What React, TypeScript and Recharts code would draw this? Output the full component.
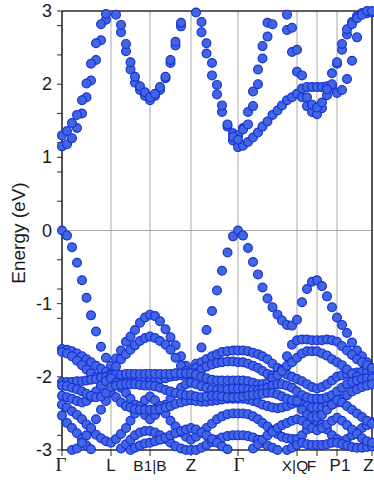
import React from 'react';
import { ScatterChart, Scatter, XAxis, YAxis, CartesianGrid, ReferenceLine } from 'recharts';

// k-path position of every sampled point (Γ-L-B1|B-Z-Γ-X|Q-F-P1-Z)
const kGrid = [
  0, 5, 10, 15, 20, 24.5, 29, 34, 39, 44, 49,
  54, 59, 64, 68.5, 73, 78, 83, 88,
  93, 98, 103.5, 108.5, 113.5, 119, 124, 129,
  134, 139.5, 144.5, 150, 155, 160, 165.5, 171, 176,
  181, 186, 191, 196, 200.5, 205.5, 210.5, 215.5, 220, 225, 230, 235,
  240, 245, 250, 255,
  260, 265, 270, 275,
  280, 285, 290, 295, 300, 305, 310,
];

const kPoints = [0, 49, 88, 129, 176, 235, 255, 275, 310];
const kLabels = ['Γ', 'L', 'B1|B', 'Z', 'Γ', 'X|Q', 'F', 'P1', 'Z'];

const energyTicks = [-3, -2.8, -2.4, -2, -1.6, -1.2, -1, -0.8, -0.4, 0, 0.4, 0.8, 1, 1.2, 1.6, 2, 2.4, 2.8, 3];

// conduction bands
const c1 = [
  1.15, 1.18, 1.26, 1.40, 1.60, 1.82, 2.05, 2.33, 2.60, 2.88, 3.10,
  2.95, 2.71, 2.45, 2.20, 2.02, 1.92, 1.84, 1.78,
  1.84, 1.92, 2.08, 2.29, 2.53, 2.79, 3.05, 3.20,
  2.98, 2.71, 2.42, 2.12, 1.86, 1.62, 1.42, 1.23, 1.14,
  1.16, 1.21, 1.27, 1.34, 1.42, 1.49, 1.58, 1.64, 1.71, 1.78, 1.82, 1.87,
  1.94, 1.96, 1.96, 1.96,
  1.96, 1.97, 1.95, 1.88,
  1.92, 2.07, 2.32, 2.64, 2.97, 3.10, 3.20,
];
const c2 = [
  1.30, 1.36, 1.47, 1.58, 1.78, 2.01, 2.28, 2.56, 2.82, 2.96, 3.10,
  3.05, 2.81, 2.55, 2.30, 2.10, 1.97, 1.89, 1.82,
  1.87, 1.96, 2.10, 2.33, 2.58, 2.84, 3.10, 3.20,
  3.05, 2.85, 2.56, 2.29, 1.99, 1.71, 1.45, 1.33, 1.30,
  1.40, 1.62, 1.90, 2.20, 2.52, 2.84, 3.05, 3.20, 3.05, 2.74, 2.44, 2.17,
  1.82, 1.70, 1.62, 1.59,
  1.67, 1.85, 2.00, 2.28,
  2.47, 2.68, 2.85, 2.93, 2.97, 2.97, 2.98,
];
const c3 = [
  null, null, null, null, null, null, null, null, null, null, null,
  null, null, null, null, null, null, null, null,
  null, null, null, null, null, null, null, null,
  null, null, null, null, null, null, null, 1.28, 1.24,
  1.38, 1.45, 1.70, 2.00, 2.35, 2.65, 2.82, null, null, 2.95, 2.77, 2.47,
  2.12, 1.82, 1.72, 1.68,
  1.75, 1.93, 2.15, 2.30,
  2.55, 2.75, 2.82, 2.90, 2.95, 3.00, 3.00,
];

// valence bands
const v1 = [
  0.00, -0.07, -0.23, -0.44, -0.68, -0.92, -1.16, -1.38, -1.59, -1.74, -1.85,
  -1.75, -1.64, -1.52, -1.45, -1.36, -1.26, -1.19, -1.15,
  -1.17, -1.24, -1.35, -1.46, -1.57, -1.72, -1.85, -1.95,
  -1.82, -1.60, -1.36, -1.10, -0.82, -0.55, -0.30, -0.08, 0.00,
  -0.07, -0.24, -0.43, -0.60, -0.78, -0.93, -1.05, -1.15, -1.23, -1.29, -1.30, -1.22,
  -0.98, -0.80, -0.70, -0.68,
  -0.76, -0.90, -1.05, -1.19,
  -1.29, -1.40, -1.53, -1.64, -1.72, -1.80, -1.88,
];
const v2 = [
  -1.62, -1.63, -1.65, -1.68, -1.72, -1.76, -1.80, -1.85, -1.89, -1.93, -1.96,
  -1.86, -1.76, -1.69, -1.63, -1.57, -1.51, -1.47, -1.45,
  -1.47, -1.51, -1.56, -1.63, -1.74, -1.85, -1.92, -1.97,
  -1.88, -1.80, -1.76, -1.72, -1.69, -1.66, -1.65, -1.64, -1.64,
  -1.64, -1.65, -1.67, -1.69, -1.72, -1.76, -1.82, -1.88, -1.93, -1.97, -2.00, -2.03,
  -2.06, -2.10, -2.14, -2.16,
  -2.14, -2.10, -2.05, -2.00,
  -1.98, -1.96, -1.95, -1.94, -1.93, -1.92, -1.92,
];
const va = [
  -1.66, -1.68, -1.72, -1.78, -1.84, -1.90, -1.95, -2.00, -2.02, -2.02, -2.00,
  -1.99, -2.00, -2.00, -2.00, -2.01, -2.02, -2.03, -2.04,
  -2.04, -2.03, -2.02, -2.00, -1.99, -1.98, -1.97, -1.97,
  -1.95, -1.90, -1.86, -1.83, -1.81, -1.80, -1.79, -1.79, -1.80,
  -1.80, -1.82, -1.85, -1.88, -1.92, -1.96, -1.98, -1.98, -1.90, -1.72, -1.56, -1.50,
  -1.49, -1.49, -1.50, -1.50,
  -1.50, -1.49, -1.50, -1.52,
  -1.58, -1.64, -1.70, -1.76, -1.80, -1.84, -1.88,
];
const v3 = [
  -2.07, -2.07, -2.07, -2.06, -2.06, -2.05, -2.04, -2.03, -2.01, -2.00, -1.98,
  -1.97, -1.97, -1.96, -1.96, -1.96, -1.96, -1.96, -1.96,
  -1.96, -1.96, -1.96, -1.96, -1.95, -1.95, -1.95, -1.95,
  -1.97, -2.00, -2.02, -2.04, -2.05, -2.05, -2.05, -2.05, -2.05,
  -2.05, -2.06, -2.08, -2.10, -2.10, -2.08, -2.02, -1.98, -1.92, -1.85, -1.80, -1.74,
  -1.68, -1.65, -1.65, -1.65,
  -1.68, -1.71, -1.76, -1.80,
  -1.84, -1.90, -1.96, -2.00, -2.03, -2.05, -2.07,
];
const v4 = [
  -2.26, -2.28, -2.30, -2.33, -2.35, -2.33, -2.28, -2.20, -2.12, -2.06, -2.02,
  -2.08, -2.15, -2.22, -2.30, -2.38, -2.45, -2.52, -2.58,
  -2.52, -2.45, -2.38, -2.30, -2.22, -2.15, -2.10, -2.08,
  -2.10, -2.13, -2.15, -2.17, -2.18, -2.18, -2.17, -2.16, -2.16,
  -2.16, -2.17, -2.18, -2.18, -2.17, -2.15, -2.12, -2.10, -2.10, -2.12, -2.15, -2.20,
  -2.25, -2.28, -2.30, -2.30,
  -2.30, -2.28, -2.25, -2.20,
  -2.15, -2.10, -2.07, -2.05, -2.03, -2.02, -2.02,
];
const v5 = [
  -2.38, -2.42, -2.47, -2.52, -2.58, -2.65, -2.72, -2.79, -2.84, -2.88, -2.90,
  -2.85, -2.78, -2.70, -2.60, -2.50, -2.40, -2.32, -2.27,
  -2.32, -2.40, -2.50, -2.60, -2.68, -2.76, -2.82, -2.86,
  -2.82, -2.76, -2.70, -2.64, -2.58, -2.54, -2.51, -2.50, -2.50,
  -2.50, -2.51, -2.54, -2.58, -2.63, -2.68, -2.73, -2.78, -2.82, -2.84, -2.85, -2.85,
  -2.80, -2.72, -2.65, -2.60,
  -2.65, -2.72, -2.80, -2.85,
  -2.88, -2.85, -2.80, -2.75, -2.70, -2.66, -2.62,
];
const v6 = [
  -2.53, -2.63, -2.70, -2.77, -2.85, -2.94, -2.99, null, null, null, null,
  null, -2.98, -2.92, -2.86, -2.80, -2.76, -2.74, -2.74,
  -2.76, -2.80, -2.85, -2.90, -2.95, -2.98, -3.00, -3.00,
  -3.00, -2.97, -2.93, -2.89, -2.86, -2.83, -2.81, -2.80, -2.80,
  -2.80, -2.81, -2.83, -2.86, -2.90, -2.94, -2.97, -3.00, null, -3.00, -2.97, -2.93,
  -2.90, -2.92, -2.93, -2.93,
  -2.93, -2.92, -2.90, -2.90,
  -2.92, -2.94, -2.96, -2.97, -2.97, -2.96, -2.95,
];
const v7 = [
  null, null, -3.00, -2.98, -2.90, -2.80, -2.70, -2.58, -2.45, -2.33, -2.22,
  -2.28, -2.35, -2.40, -2.42, -2.44, -2.45, -2.45, -2.45,
  -2.45, -2.44, -2.42, -2.40, -2.37, -2.35, -2.33, -2.32,
  -2.33, -2.34, -2.34, -2.33, -2.32, -2.31, -2.30, -2.30, -2.30,
  -2.30, -2.31, -2.33, -2.35, -2.38, -2.40, -2.42, -2.43, -2.42, -2.40, -2.37, -2.35,
  -2.38, -2.40, -2.42, -2.42,
  -2.42, -2.40, -2.38, -2.35,
  -2.30, -2.25, -2.20, -2.17, -2.14, -2.12, -2.10,
];
const v8 = [
  -2.12, -2.13, -2.15, -2.17, -2.20, -2.23, -2.26, -2.28, -2.27, -2.22, -2.14,
  -2.12, -2.11, -2.10, -2.10, -2.10, -2.11, -2.12, -2.12,
  -2.13, -2.15, -2.18, -2.20, -2.22, -2.24, -2.25, -2.25,
  -2.27, -2.28, -2.27, -2.26, -2.26, -2.27, -2.28, -2.28, -2.28,
  -2.27, -2.26, -2.25, -2.24, -2.23, -2.22, -2.22, -2.24, -2.27, -2.30, -2.32, -2.33,
  -2.45, -2.52, -2.55, -2.55,
  -2.52, -2.45, -2.38, -2.32,
  -2.35, -2.40, -2.45, -2.50, -2.55, -2.60, -2.64,
];
const v9 = [
  null, null, null, null, null, null, null, null, null, null, null,
  null, null, null, -3.00, -2.97, -2.94, -2.91, -2.90,
  -2.88, -2.86, -2.83, -2.80, -2.77, -2.74, -2.72, -2.70,
  -2.72, -2.76, -2.80, -2.85, -2.90, -2.95, -2.99, null, null,
  null, null, -2.98, -2.92, -2.86, -2.80, -2.75, -2.70, -2.66, -2.63, -2.60, -2.58,
  -2.60, -2.65, -2.70, -2.73,
  -2.70, -2.65, -2.60, -2.56,
  -2.60, -2.66, -2.72, -2.78, -2.84, -2.88, -2.90,
];

const bands = [c1, c2, c3, v1, v2, va, v3, v4, v5, v6, v7, v8, v9];

const toPoints = (band: (number | null)[]) =>
  kGrid
    .map((k, i) => ({ k, e: band[i] }))
    .filter((p) => p.e !== null && p.e >= -3.02 && p.e <= 3.02);

const SANS = 'Liberation Sans, Arial, sans-serif';
const SERIF = 'Liberation Serif, Times New Roman, serif';

const Dot = (props: any) => (
  <circle cx={props.cx} cy={props.cy} r={4.4} fill="#4266e2" stroke="#1732d6" strokeWidth={1.2} />
);

// small horizontal nudges so the crowded labels sit as in the figure
const labelNudge: Record<number, number> = { 0: -1, 176: 1, 235: -2, 255: -5.5, 275: 3, 310: -3.5 };

const KTick = (props: any) => {
  const { x, y, payload } = props;
  const idx = kPoints.indexOf(payload.value);
  const label = kLabels[idx];
  const isGamma = label === 'Γ';
  const small = label === 'X|Q' || label === 'F' || label === 'B1|B';
  return (
    <text
      x={x + (labelNudge[payload.value] || 0)}
      y={y}
      dy={14}
      textAnchor="middle"
      fontSize={isGamma ? 19 : small ? 15.5 : 17}
      fontFamily={isGamma ? SERIF : SANS}
      fill="#1a1a1a"
    >
      {label}
    </text>
  );
};

const ETick = (props: any) => {
  const { x, y, payload } = props;
  const v = payload.value;
  if (Math.abs(v - Math.round(v)) > 1e-6) return null;
  return (
    <text x={x} y={y} dy={6} textAnchor="end" fontSize={18} fontFamily={SANS} fill="#1a1a1a">
      {String(v)}
    </text>
  );
};

const App: React.FC = () => {
  return (
    <div style={{ position: 'absolute', left: 0, top: 0, background: '#fff' }}>
      <ScatterChart width={374} height={484} margin={{ top: 11, right: 2, bottom: 4, left: 0 }}>
        <CartesianGrid horizontal={false} stroke="#a8a8a8" strokeWidth={1} />
        <XAxis
          type="number"
          dataKey="k"
          domain={[0, 310]}
          ticks={kPoints}
          interval={0}
          height={30}
          tickSize={6}
          tickMargin={1}
          tick={<KTick />}
          axisLine={{ stroke: '#2a2a2a', strokeWidth: 1.5 }}
          tickLine={{ stroke: '#2a2a2a' }}
        />
        <YAxis
          type="number"
          dataKey="e"
          domain={[-3, 3]}
          ticks={energyTicks}
          interval={0}
          width={62}
          tickSize={5}
          tickMargin={5}
          tick={<ETick />}
          axisLine={{ stroke: '#2a2a2a', strokeWidth: 1.5 }}
          tickLine={{ stroke: '#2a2a2a' }}
          label={{
            content: () => (
              <text
                x={25}
                y={233}
                transform="rotate(-90 25 233)"
                textAnchor="middle"
                fontSize={19}
                fontFamily={SANS}
                fill="#1a1a1a"
              >
                Energy (eV)
              </text>
            ),
          }}
        />
        <ReferenceLine y={0} stroke="#a8a8a8" strokeWidth={1} />
        <ReferenceLine y={3} stroke="#2a2a2a" strokeWidth={1.5} />
        <ReferenceLine x={310} stroke="#2a2a2a" strokeWidth={1.5} />
        {bands.map((band, i) => (
          <Scatter key={i} data={toPoints(band)} shape={<Dot />} isAnimationActive={false} />
        ))}
      </ScatterChart>
    </div>
  );
};

export default App;
